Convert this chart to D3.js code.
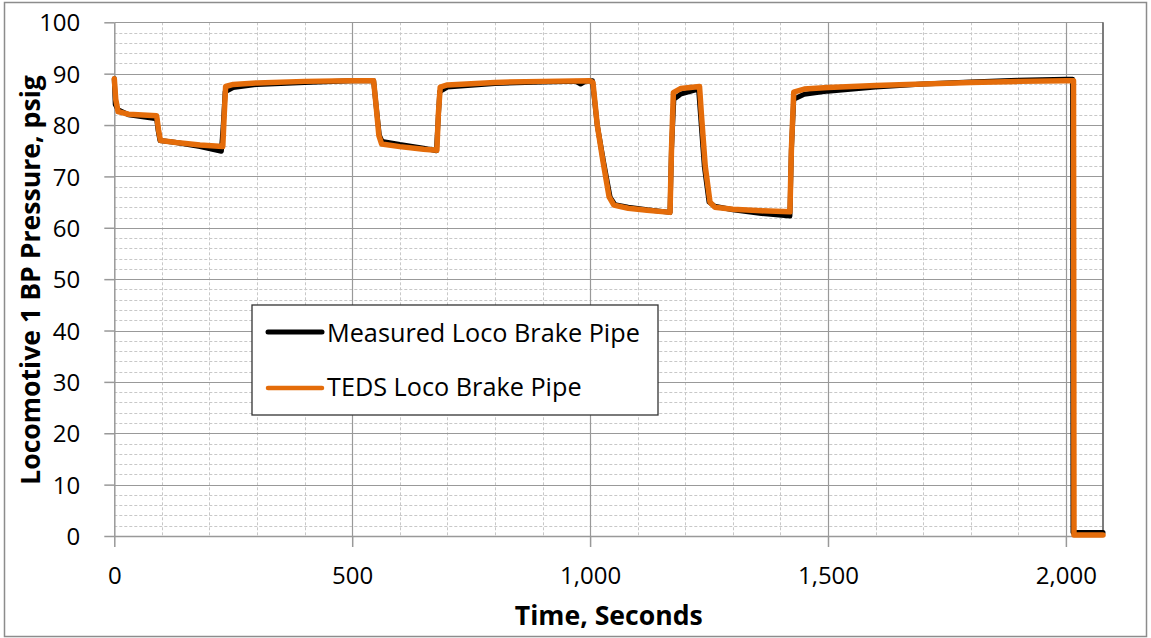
<!DOCTYPE html>
<html>
<head>
<meta charset="utf-8">
<script src="https://cdn.jsdelivr.net/npm/d3@7"></script>
<style>
  html, body { margin: 0; padding: 0; background: #fff; }
  svg { display: block; }
  text { font-family: "Open Sans", "Noto Sans", sans-serif; fill: #000; }
</style>
</head>
<body>
<svg id="chart" width="1151" height="638"></svg>
<script>
// ---- Data ----
const seriesNames = ["Measured Loco Brake Pipe", "TEDS Loco Brake Pipe"];
const seriesColors = ["#000000", "#E46C0A"];

const measuredTime = [0, 2, 8, 30, 89, 92, 96, 130, 180, 225, 229, 233, 250, 300, 400, 500, 545, 550, 557, 563, 600, 650, 677, 680, 684, 700, 800, 900, 970, 980, 990, 1005, 1015, 1028, 1042, 1052, 1080, 1120, 1168, 1171, 1176, 1190, 1228, 1232, 1240, 1250, 1262, 1300, 1360, 1420, 1423, 1428, 1450, 1500, 1600, 1700, 1800, 1900, 2000, 2014, 2015, 2078];
const measuredPsig = [89, 84, 83, 82, 81.2, 79, 77, 76.6, 75.8, 74.9, 80, 86.5, 87.3, 87.9, 88.3, 88.6, 88.6, 84, 78, 76.8, 76.2, 75.5, 75, 80, 86.5, 87.4, 88.1, 88.4, 88.5, 88.0, 88.5, 88.6, 80, 73, 66, 64.5, 64, 63.5, 63, 75, 85, 86, 87, 82, 72, 65, 64.2, 63.5, 62.8, 62.3, 75, 85, 86, 86.6, 87.4, 88, 88.4, 88.7, 88.9, 88.9, 0.7, 0.7];

const tedsTime = [0, 3, 8, 30, 89, 93, 97, 130, 180, 228, 231, 234, 250, 300, 400, 500, 545, 550, 556, 562, 600, 650, 678, 681, 685, 700, 800, 900, 1000, 1006, 1015, 1027, 1040, 1050, 1080, 1120, 1168, 1171, 1175, 1190, 1230, 1234, 1242, 1252, 1262, 1300, 1360, 1420, 1423, 1428, 1450, 1500, 1600, 1700, 1800, 1900, 2000, 2016, 2017, 2078];
const tedsPsig = [89, 85, 82.6, 82.1, 81.8, 79, 77, 76.6, 76.1, 75.8, 82, 87.5, 87.9, 88.2, 88.5, 88.6, 88.6, 84, 78, 76.3, 75.8, 75.3, 75.1, 82, 87.4, 87.8, 88.3, 88.5, 88.6, 88.3, 80, 73, 66, 64.4, 63.8, 63.4, 63, 75, 86.3, 87.1, 87.5, 82, 72, 65, 64, 63.6, 63.3, 63.1, 75, 86.4, 87, 87.3, 87.7, 88, 88.3, 88.5, 88.6, 88.6, 0.2, 0.2];

const xTickValues = [0, 500, 1000, 1500, 2000];
const yTickValues = [0, 10, 20, 30, 40, 50, 60, 70, 80, 90, 100];
const xTitle = "Time, Seconds";
const yTitle = "Locomotive 1 BP Pressure, psig";

// ---- Layout ----
const svg = d3.select("#chart");
const W = 1151, H = 638;
const plot = { left: 114.3, right: 1103, top: 22.3, bottom: 536 };

// outer frame
svg.append("rect").attr("x", 4.5).attr("y", 2.5).attr("width", 1142).attr("height", 634)
  .attr("fill", "#fff").attr("stroke", "#8c8c8c").attr("stroke-width", 1.5);

const x = d3.scaleLinear().domain([0, 2078]).range([plot.left, plot.right]);
const y = d3.scaleLinear().domain([0, 100]).range([plot.bottom, plot.top]);

const g = svg.append("g");

// minor gridlines
const xMinor = d3.range(100, 2001, 100).filter(v => v % 500 !== 0);
const yMinor = d3.range(2, 100, 2).filter(v => v % 10 !== 0);
g.selectAll(".ymin").data(yMinor).join("line")
  .attr("x1", plot.left).attr("x2", plot.right)
  .attr("y1", d => Math.round(y(d)) + 0.5).attr("y2", d => Math.round(y(d)) + 0.5)
  .attr("stroke", "#c8c8c8").attr("stroke-width", 1).attr("stroke-dasharray", "3,2");
g.selectAll(".xmin").data(xMinor).join("line")
  .attr("y1", plot.top).attr("y2", plot.bottom)
  .attr("x1", d => Math.round(x(d)) + 0.5).attr("x2", d => Math.round(x(d)) + 0.5)
  .attr("stroke", "#c8c8c8").attr("stroke-width", 1).attr("stroke-dasharray", "3,2");

// major gridlines
g.selectAll(".ymaj").data(yTickValues.filter(v => v > 0)).join("line")
  .attr("x1", plot.left).attr("x2", plot.right)
  .attr("y1", d => Math.round(y(d)) + 0.5).attr("y2", d => Math.round(y(d)) + 0.5)
  .attr("stroke", "#999").attr("stroke-width", 1.2);
g.selectAll(".xmaj").data(xTickValues.filter(v => v > 0)).join("line")
  .attr("y1", plot.top).attr("y2", plot.bottom)
  .attr("x1", d => Math.round(x(d)) + 0.5).attr("x2", d => Math.round(x(d)) + 0.5)
  .attr("stroke", "#999").attr("stroke-width", 1.2);

// plot right border
g.append("line").attr("x1", plot.right).attr("x2", plot.right).attr("y1", plot.top).attr("y2", plot.bottom)
  .attr("stroke", "#6e6e6e").attr("stroke-width", 1.8);

// axes
const xAxis = d3.axisBottom(x).tickValues(xTickValues).tickFormat(d3.format(",")).tickSizeInner(11).tickSizeOuter(0).tickPadding(20);
const yAxis = d3.axisLeft(y).tickValues(yTickValues).tickSizeInner(10).tickSizeOuter(0).tickPadding(24);

const gx = svg.append("g").attr("transform", `translate(0,${plot.bottom})`).call(xAxis);
const gy = svg.append("g").attr("transform", `translate(${plot.left},0)`).call(yAxis);
[gx, gy].forEach(a => {
  a.select(".domain").attr("stroke", "#999").attr("stroke-width", 1.5);
  a.selectAll(".tick line").attr("stroke", "#999").attr("stroke-width", 1.5);
  a.selectAll(".tick text").style("font-family", '"Open Sans", sans-serif').style("font-size", "24px").attr("fill", "#000");
});
gy.selectAll(".tick text").attr("dy", "0.36em");

// series
const measured = measuredTime.map((t, i) => [t, measuredPsig[i]]);
const teds = tedsTime.map((t, i) => [t, tedsPsig[i]]);
const line = d3.line().x(d => x(d[0])).y(d => y(d[1]));
svg.append("path").datum(measured).attr("d", line).attr("fill", "none")
  .attr("stroke", seriesColors[0]).attr("stroke-width", 5).attr("stroke-linejoin", "round").attr("stroke-linecap", "round");
svg.append("path").datum(teds).attr("d", line).attr("fill", "none")
  .attr("stroke", seriesColors[1]).attr("stroke-width", 5.5).attr("stroke-linejoin", "round").attr("stroke-linecap", "round");

// fit helper
function fit(sel, target) {
  const w = sel.node().getComputedTextLength();
  const fs = parseFloat(sel.style("font-size"));
  sel.style("font-size", (fs * target / w) + "px");
}

// axis titles
const xt = svg.append("text").attr("x", (514.5 + 703) / 2).attr("y", 625).attr("text-anchor", "middle")
  .style("font-weight", "bold").style("font-size", "24px").text(xTitle);
fit(xt, 188);
const yt = svg.append("text").attr("transform", `translate(40,280) rotate(-90)`).attr("text-anchor", "middle")
  .style("font-weight", "bold").style("font-size", "24px").text(yTitle);
fit(yt, 410);

// legend
const lg = svg.append("g");
lg.append("rect").attr("x", 252).attr("y", 305).attr("width", 406).attr("height", 110)
  .attr("fill", "#fff").attr("stroke", "#333").attr("stroke-width", 1.3);
const legY = [332, 388];
const legBase = [341.7, 395.7];
seriesNames.forEach((name, i) => {
  lg.append("line").attr("x1", 268).attr("x2", 322).attr("y1", legY[i]).attr("y2", legY[i])
    .attr("stroke", seriesColors[i]).attr("stroke-width", i === 0 ? 5 : 4.5).attr("stroke-linecap", "round");
  const t = lg.append("text").attr("x", 327).attr("y", legBase[i]).style("font-size", "24px").text(name);
  if (i === 0) fit(t, 313);
});
// make second legend text same size as first
const fs0 = lg.selectAll("text").nodes()[0].style.fontSize;
d3.select(lg.selectAll("text").nodes()[1]).style("font-size", fs0);
</script>
</body>
</html>
